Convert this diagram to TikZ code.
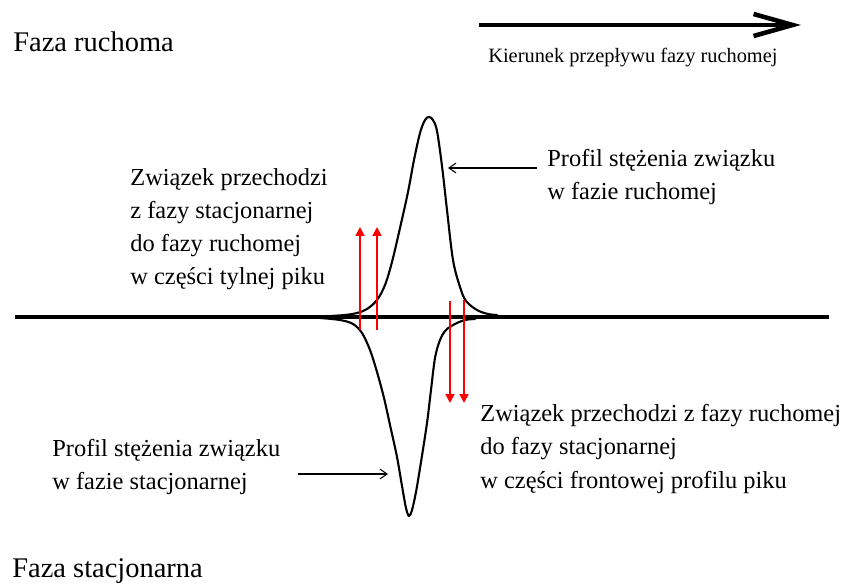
\documentclass[tikz,border=0pt]{standalone}
\usepackage{fontspec}
\setmainfont{Liberation Serif}
\usetikzlibrary{arrows.meta}

\begin{document}
\begin{tikzpicture}[
  x=0.02cm, y=-0.02cm,
  txt/.style={anchor=base west, inner sep=0pt, align=left, font=\fontsize{13.9}{18.8}\selectfont},
  phase/.style={anchor=base west, inner sep=0pt, font=\fontsize{16.2}{19}\selectfont},
  small/.style={anchor=base west, inner sep=0pt, font=\fontsize{11.6}{14}\selectfont},
  curve/.style={line width=1.2pt, line join=round, line cap=round},
  axis/.style={line width=2.3pt},
  redarr/.style={-{Triangle[length=5pt, width=5pt]}, red, line width=1.1pt},
  thinarr/.style={-{Straight Barb[length=4pt, width=5.5pt]}, line width=0.6pt},
  flowarr/.style={-{Straight Barb[length=0.78cm, width=0.44cm]}, line width=2.6pt},
]
\useasboundingbox (0,0) rectangle (846,584);

\node[phase] (mobile) at (13,52)  {Faza ruchoma};
\node[phase] (stat)   at (12,577) {Faza stacjonarna};

% flow direction
\coordinate (flowS) at (479,25);
\coordinate (flowE) at (801,25);
\draw[flowarr] (flowS) -- (flowE);
\node[small] (flowlbl) at (488,63) {Kierunek przepływu fazy ruchomej};

% axis between the phases
\coordinate (axisL) at (15,317);
\coordinate (axisR) at (829,317);
\draw[axis] (axisL) -- (axisR);

% peak in the mobile phase
\draw[curve] plot[smooth, tension=0.55] coordinates {
  (330,316) (345,315) (357,313) (367,309) (377,300) (385,285) (392,262)
  (400,228) (408,192) (414,160) (420,133) (425,120) (429,117) (433,120)
  (437,131) (442,166) (447,210) (453,260) (460,287) (466,301) (477,310)
  (488,314) (497,315)};

% peak in the stationary phase
\draw[curve] plot[smooth, tension=0.55] coordinates {
  (320,318) (340,320) (353,324) (362,333) (370,350) (377,372) (384,398)
  (390,425) (397,457) (402,486) (406,508) (409,516) (412,510) (416,492)
  (421,462) (427,423) (431,390) (435,358) (440,340) (446,330) (455,324)
  (465,320) (475,319)};

% transfer between the phases
\foreach \x in {360,377}
  \draw[redarr] (\x,330) -- (\x,227);
\foreach \x/\y in {450/301,464/300}
  \draw[redarr] (\x,\y) -- (\x,403);

% labels (anchored at the last line)
\node[txt] (rear) at (130,285)
  {Związek przechodzi\\z fazy stacjonarnej\\do fazy ruchomej\\w części tylnej piku};
\node[txt] (profmob) at (547,200)
  {Profil stężenia związku\\w fazie ruchomej};
\node[txt] (front) at (480,488)
  {Związek przechodzi z fazy ruchomej\\do fazy stacjonarnej\\w części frontowej profilu piku};
\node[txt] (profstat) at (52,490)
  {Profil stężenia związku\\w fazie stacjonarnej};

\coordinate (mobTail)  at (537,168);
\coordinate (mobTip)   at (448,168);
\coordinate (statTail) at (298,474);
\coordinate (statTip)  at (388,474);
\draw[thinarr] (mobTail) -- (mobTip);
\draw[thinarr] (statTail) -- (statTip);
\end{tikzpicture}
\end{document}
